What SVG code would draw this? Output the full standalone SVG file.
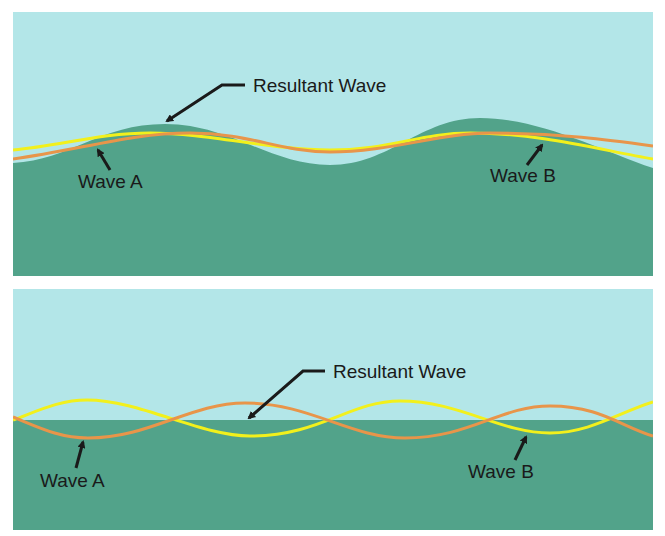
<svg xmlns="http://www.w3.org/2000/svg" width="665" height="536" viewBox="0 0 665 536">
<defs><marker id="ah" markerWidth="8" markerHeight="8" refX="6" refY="4" orient="auto" markerUnits="userSpaceOnUse"><path d="M0,0 L8,4 L0,8 Z" fill="#1a1a1a"/></marker>
<clipPath id="c1"><rect x="13" y="12" width="640" height="264"/></clipPath>
<clipPath id="c2"><rect x="13" y="289" width="640" height="241"/></clipPath></defs>
<style>.sky{fill:#b3e6e8}.sea{fill:#52a38a}.y{fill:none;stroke:#f2f01c;stroke-width:3}.o{fill:none;stroke:#e8954a;stroke-width:3}.t{font-family:"Liberation Sans",Arial,sans-serif;font-size:19px;fill:#1a1a1a}.a{stroke:#1a1a1a;stroke-width:3;fill:none}</style>
<g id="top" clip-path="url(#c1)">
<rect class="sky" x="13" y="12" width="640" height="264"/>
<path class="sea" d="M13,163 C70,160 100,124 165,124 C230,124 270,165 330,165 C390,165 420,118 480,118 C540,118 600,150 653,168 L653,276 L13,276 Z"/>
<path class="y" d="M13,150 C60,146 100,133 150,133 C210,133 270,150 330,150 C390,150 420,133 470,133 C540,133 600,150 653,159"/>
<path class="o" d="M13,159 C80,150 130,133 190,133 C250,133 280,152 330,152 C390,152 440,133 490,133 C560,133 610,140 653,146"/>
</g>
<g id="bottom" clip-path="url(#c2)">
<rect class="sky" x="13" y="289" width="640" height="241"/>
<rect class="sea" x="13" y="420" width="640" height="110"/>
<path class="y" d="M13,420 C40,410 60,400 87,400 C140,400 200,436 250,436 C320,436 350,401 400,401 C460,401 500,433 550,433 C590,433 620,412 653,402"/>
<path class="o" d="M13,417 C40,428 60,438 88,438 C150,438 190,403 245,403 C310,403 350,438 405,438 C470,438 500,406 550,406 C600,406 620,426 653,436"/>
</g>
<g id="connectors">
<path class="a" d="M245,85 L222,85 L167,121" marker-end="url(#ah)"/>
<path class="a" d="M110,170 L98,150" marker-end="url(#ah)"/>
<path class="a" d="M527,165 L542,145" marker-end="url(#ah)"/>
<path class="a" d="M325,371 L303,371 L249,418" marker-end="url(#ah)"/>
<path class="a" d="M76,468 L83,442" marker-end="url(#ah)"/>
<path class="a" d="M515,460 L526,437" marker-end="url(#ah)"/>
</g>
<g id="labels">
<text class="t" x="253" y="92">Resultant Wave</text>
<text class="t" x="78" y="188">Wave A</text>
<text class="t" x="490" y="182">Wave B</text>
<text class="t" x="333" y="378">Resultant Wave</text>
<text class="t" x="40" y="487">Wave A</text>
<text class="t" x="468" y="478">Wave B</text>
</g>
</svg>
